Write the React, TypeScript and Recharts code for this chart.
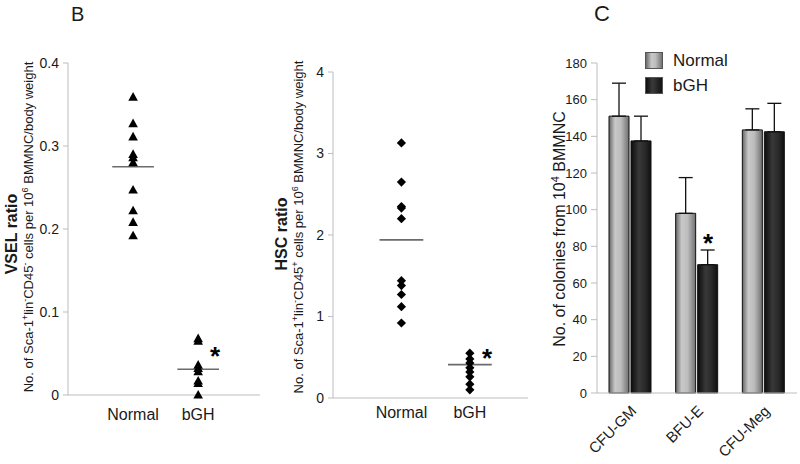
import {
  Bar,
  BarChart,
  ErrorBar,
  Legend,
  ReferenceDot,
  ReferenceLine,
  Scatter,
  ScatterChart,
  XAxis,
  YAxis,
} from "recharts";

const FONT = '"Liberation Sans", Arial, sans-serif';
const AXIS = "#bdbdbd";
const INK = "#1a1a1a";

// panel B
const groups = ["Normal", "bGH"];
const vselNormal = [0.359, 0.327, 0.311, 0.29, 0.286, 0.28, 0.247, 0.222, 0.208, 0.192];
const vselBgh = [0.068, 0.065, 0.036, 0.032, 0.028, 0.017, 0.014, 0.0];
const vselMeans = [0.275, 0.031];
const vselTicks = [0, 0.1, 0.2, 0.3, 0.4];
const vselStar = { x: 2.26, y: 0.052 };

const hscNormal = [3.13, 2.65, 2.35, 2.33, 2.2, 1.44, 1.38, 1.27, 1.12, 0.92];
const hscBgh = [0.55, 0.48, 0.43, 0.37, 0.32, 0.26, 0.17, 0.1];
const hscMeans = [1.94, 0.41];
const hscTicks = [0, 1, 2, 3, 4];
const hscStar = { x: 2.25, y: 0.54 };

// panel C
const colonyTypes = ["CFU-GM", "BFU-E", "CFU-Meg"];
const normalColonies = [151, 98, 143.5];
const normalSem = [18, 19.5, 11.5];
const bghColonies = [137.5, 70, 142.5];
const bghSem = [13.5, 8, 15.5];
const colonyTicks = [0, 20, 40, 60, 80, 100, 120, 140, 160, 180];
const colonyStar = { type: "BFU-E", y: 84 };

const toPoints = (vals: number[], x: number) => vals.map((y) => ({ x, y }));

const colonyData = colonyTypes.map((type, i) => ({
  type,
  normal: normalColonies[i],
  normalErr: [0, normalSem[i]],
  bgh: bghColonies[i],
  bghErr: [0, bghSem[i]],
}));

const Triangle = (p: any) => (
  <path
    d={`M${p.cx},${p.cy - 5} L${p.cx + 4.8},${p.cy + 3.6} L${p.cx - 4.8},${p.cy + 3.6} Z`}
    fill="#000"
  />
);

const Diamond = (p: any) => (
  <path
    d={`M${p.cx},${p.cy - 4.6} L${p.cx + 4.6},${p.cy} L${p.cx},${p.cy + 4.6} L${p.cx - 4.6},${p.cy} Z`}
    fill="#000"
  />
);

const Star = (p: any) => (
  <text
    x={p.cx}
    y={p.cy + 13}
    textAnchor="middle"
    fontSize={26}
    fontWeight="bold"
    fontFamily={FONT}
    fill="#000"
  >
    *
  </text>
);

function RatioTitle({ bold, cellSign }: { bold: string; cellSign: string }) {
  return (
    <g fontFamily={FONT} fill={INK}>
      <text
        transform="rotate(-90 17 234)"
        x={17}
        y={234}
        textAnchor="middle"
        fontWeight="bold"
        fontSize={16}
      >
        {bold}
      </text>
      <text transform="rotate(-90 33 227)" x={33} y={227} textAnchor="middle" fontSize={13}>
        No. of Sca-1
        <tspan dy={-5} fontSize={9}>+</tspan>
        <tspan dy={5}>lin</tspan>
        <tspan dy={-5} fontSize={9}>-</tspan>
        <tspan dy={5}>CD45</tspan>
        <tspan dy={-5} fontSize={9}>{cellSign}</tspan>
        <tspan dy={5}> cells per 10</tspan>
        <tspan dy={-5} fontSize={9}>6</tspan>
        <tspan dy={5}> BMMNC/body weight</tspan>
      </text>
    </g>
  );
}

function ColonyTitle() {
  return (
    <text
      transform="rotate(-90 35 229)"
      x={35}
      y={229}
      textAnchor="middle"
      fontSize={16}
      fontFamily={FONT}
      fill={INK}
    >
      No. of colonies from 10
      <tspan dy={-6} fontSize={11}>4</tspan>
      <tspan dy={6}> BMMNC</tspan>
    </text>
  );
}

const SlantTick = (p: any) => {
  const x = p.x + 7;
  const y = p.y + 19;
  return (
    <text
      x={x}
      y={y}
      transform={`rotate(-45 ${x} ${y})`}
      textAnchor="end"
      fontSize={15}
      fontFamily={FONT}
      fill={INK}
    >
      {p.payload.value}
    </text>
  );
};

function ColonyLegend() {
  const swatches = [
    "linear-gradient(to right, #6a6a6a, #c9c9c9 35%, #bdbdbd 60%, #737373)",
    "linear-gradient(to right, #0e0e0e, #3a3a3a 40%, #2a2a2a 65%, #121212)",
  ];
  return (
    <div style={{ fontFamily: FONT, fontSize: 17, color: INK }}>
      {groups.map((g, i) => (
        <div key={g} style={{ display: "flex", alignItems: "center", height: 25 }}>
          <div
            style={{
              width: 16,
              height: 15,
              background: swatches[i],
              border: "1px solid #555",
              marginRight: 10,
            }}
          />
          <span>{g}</span>
        </div>
      ))}
    </div>
  );
}

function DotPanel(props: {
  normal: number[];
  bgh: number[];
  means: number[];
  ticks: number[];
  star: { x: number; y: number };
  top: number;
  bottom: number;
  right: number;
  yWidth: number;
  width: number;
  xMax: number;
  shape: any;
  title: any;
  fmt: (v: number) => string;
  labelGap: number;
}) {
  const yMax = props.ticks[props.ticks.length - 1];
  return (
    <ScatterChart
      width={props.width}
      height={464}
      margin={{ top: props.top, right: props.right, bottom: 0, left: 0 }}
      style={{ fontFamily: FONT }}
    >
      <XAxis
        type="number"
        dataKey="x"
        domain={[0, props.xMax]}
        ticks={[1, 2]}
        tickFormatter={(v: number) => groups[v - 1]}
        height={464 - props.bottom}
        axisLine={{ stroke: AXIS }}
        tickLine={false}
        tickSize={0}
        tickMargin={props.labelGap}
        tick={{ fontSize: 16, fill: INK }}
        allowDataOverflow
      />
      <YAxis
        type="number"
        dataKey="y"
        domain={[0, yMax]}
        ticks={props.ticks}
        tickFormatter={props.fmt}
        width={props.yWidth}
        axisLine={{ stroke: AXIS }}
        tickLine={{ stroke: AXIS }}
        tickSize={5}
        tickMargin={4}
        tick={{ fontSize: 14, fill: INK }}
        label={props.title}
      />
      {props.means.map((m, i) => (
        <ReferenceLine
          key={i}
          segment={[
            { x: i + 1 - 0.32, y: m },
            { x: i + 1 + 0.32, y: m },
          ]}
          stroke="#6b6b6b"
          strokeWidth={1.6}
        />
      ))}
      <Scatter data={toPoints(props.normal, 1)} shape={props.shape} isAnimationActive={false} />
      <Scatter data={toPoints(props.bgh, 2)} shape={props.shape} isAnimationActive={false} />
      <Scatter data={[props.star]} shape={Star} isAnimationActive={false} />
    </ScatterChart>
  );
}

export default function App() {
  return (
    <div
      style={{
        position: "absolute",
        left: 0,
        top: 0,
        width: 800,
        height: 464,
        background: "#fff",
        fontFamily: FONT,
      }}
    >
      <div style={{ position: "absolute", left: 71, top: 3, fontSize: 20, color: INK }}>B</div>
      <div style={{ position: "absolute", left: 594, top: 1, fontSize: 22, color: INK }}>C</div>

      <div style={{ position: "absolute", left: 0, top: 0 }}>
        <DotPanel
          normal={vselNormal}
          bgh={vselBgh}
          means={vselMeans}
          ticks={vselTicks}
          star={vselStar}
          top={63}
          bottom={395}
          right={10}
          yWidth={68}
          width={270}
          xMax={2.95}
          shape={Triangle}
          title={<RatioTitle bold="VSEL ratio" cellSign="-" />}
          fmt={(v) => (v === 0 ? "0" : v.toFixed(1))}
          labelGap={14}
        />
      </div>

      <div style={{ position: "absolute", left: 270, top: 0 }}>
        <DotPanel
          normal={hscNormal}
          bgh={hscBgh}
          means={hscMeans}
          ticks={hscTicks}
          star={hscStar}
          top={72}
          bottom={398}
          right={4}
          yWidth={63}
          width={262}
          xMax={2.85}
          shape={Diamond}
          title={<RatioTitle bold="HSC ratio" cellSign="+" />}
          fmt={(v) => String(v)}
          labelGap={9}
        />
      </div>

      <div style={{ position: "absolute", left: 530, top: 0 }}>
        <BarChart
          width={270}
          height={464}
          data={colonyData}
          margin={{ top: 63, right: 3, bottom: 0, left: 0 }}
          barSize={20}
          barGap={2}
          style={{ fontFamily: FONT }}
        >
          <defs>
            <linearGradient id="gradNormal" x1="0" y1="0" x2="1" y2="0">
              <stop offset="0" stopColor="#666" />
              <stop offset="0.3" stopColor="#c9c9c9" />
              <stop offset="0.6" stopColor="#bcbcbc" />
              <stop offset="1" stopColor="#6f6f6f" />
            </linearGradient>
            <linearGradient id="gradBgh" x1="0" y1="0" x2="1" y2="0">
              <stop offset="0" stopColor="#0c0c0c" />
              <stop offset="0.4" stopColor="#383838" />
              <stop offset="0.7" stopColor="#2a2a2a" />
              <stop offset="1" stopColor="#101010" />
            </linearGradient>
          </defs>
          <XAxis
            dataKey="type"
            height={71}
            axisLine={{ stroke: AXIS }}
            tickLine={false}
            tickSize={0}
            tickMargin={0}
            tick={SlantTick}
            interval={0}
          />
          <YAxis
            domain={[0, 180]}
            ticks={colonyTicks}
            width={67}
            axisLine={{ stroke: AXIS }}
            tickLine={{ stroke: AXIS }}
            tickSize={6}
            tickMargin={4}
            tick={{ fontSize: 13, fill: INK }}
            label={<ColonyTitle />}
          />
          <Legend
            layout="vertical"
            align="center"
            verticalAlign="middle"
            wrapperStyle={{ top: 48, left: 115, width: 100 }}
            content={() => <ColonyLegend />}
          />
          <Bar
            dataKey="normal"
            name="Normal"
            fill="url(#gradNormal)"
            stroke="#111"
            strokeWidth={1}
            isAnimationActive={false}
          >
            <ErrorBar dataKey="normalErr" direction="y" width={7} stroke="#111" strokeWidth={1.3} />
          </Bar>
          <Bar
            dataKey="bgh"
            name="bGH"
            fill="url(#gradBgh)"
            stroke="#111"
            strokeWidth={1}
            isAnimationActive={false}
          >
            <ErrorBar dataKey="bghErr" direction="y" width={7} stroke="#111" strokeWidth={1.3} />
          </Bar>
          <ReferenceDot
            x={colonyStar.type}
            y={colonyStar.y}
            r={0}
            shape={(p: any) => <Star cx={p.cx + 11} cy={p.cy} />}
          />
        </BarChart>
      </div>
    </div>
  );
}
